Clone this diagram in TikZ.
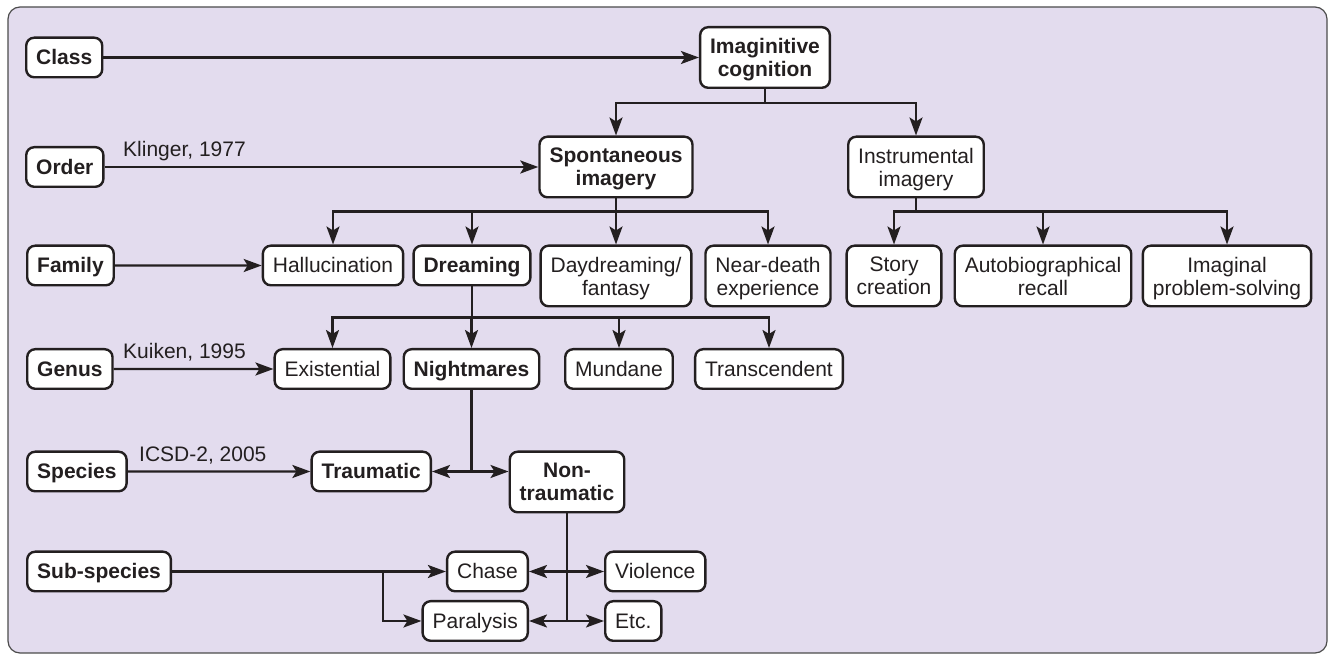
\documentclass[tikz,border=0pt]{standalone}
\usepackage{fontspec}
\setmainfont{Liberation Sans}
\usetikzlibrary{arrows.meta}
\definecolor{lav}{RGB}{227,220,238}
\definecolor{ink}{RGB}{35,31,32}
\begin{document}
\begin{tikzpicture}[x=0.5pt,y=-0.5pt,line width=1.2pt,color=ink,>={Stealth[length=9pt,width=6.5pt,inset=2pt]},font=\fontsize{10.5}{11.5}\selectfont,
    box/.style={draw,fill=white,rounded corners=4pt,align=center,inner xsep=5pt,inner ysep=3pt,minimum height=19.8pt,text height=9.7pt,text depth=2.2pt},
    bbox/.style={box,font=\fontsize{10.5}{11.5}\selectfont\bfseries},
    tall/.style={minimum height=30.3pt,inner ysep=4.5pt,text height=,text depth=0pt},
    ref/.style={anchor=base west,inner sep=0pt}]

    \useasboundingbox (0,0) rectangle (1328,656);
    \draw[line width=0.6pt,draw=black!70,fill=lav,rounded corners=6pt] (8,7) rectangle (1327,653);

    \node[bbox,anchor=west] (class) at (25,57.5) {Class};
    \node[bbox,anchor=west] (order) at (25,167) {Order};
    \node[bbox,anchor=west] (family) at (26,265.5) {Family};
    \node[bbox,anchor=west] (genus) at (26,369) {Genus};
    \node[bbox,anchor=west] (species) at (26,471.5) {Species};
    \node[bbox,anchor=west] (subsp) at (26,571.5) {Sub-species};

    \node[ref] (klinger) at (122,157) {Klinger, 1977};
    \node[ref] (kuiken) at (122,359) {Kuiken, 1995};
    \node[ref] (icsd) at (138,462) {ICSD-2, 2005};

    \node[bbox,tall] (imag) at (765,57.5) {Imaginitive\\cognition};
    \node[bbox,tall] (spont) at (616,167) {Spontaneous\\imagery};
    \node[box,tall] (instr) at (916,167) {Instrumental\\imagery};

    \node[box,anchor=north] (halluc) at (333,244.5) {Hallucination};
    \node[bbox,anchor=north] (dream) at (472,244.5) {Dreaming};
    \node[box,tall,anchor=north] (daydr) at (616,244.5) {Daydreaming/\\fantasy};
    \node[box,tall,anchor=north] (neard) at (768,244.5) {Near-death\\experience};
    \node[box,tall,anchor=north] (story) at (894,244.5) {Story\\creation};
    \node[box,tall,anchor=north] (autob) at (1043,244.5) {Autobiographical\\recall};
    \node[box,tall,anchor=north] (imagn) at (1227,244.5) {Imaginal\\problem-solving};

    \node[box,anchor=north] (exist) at (332.5,348) {Existential};
    \node[bbox,anchor=north] (night) at (471.5,348) {Nightmares};
    \node[box,anchor=north] (mund) at (619,348) {Mundane};
    \node[box,anchor=north] (trans) at (769,348) {Transcendent};

    \node[bbox,anchor=north east] (traum) at (432,450.5) {Traumatic};
    \node[bbox,tall,anchor=north] (nontr) at (567,450.5) {Non-\\traumatic};

    \node[box,anchor=east] (chase) at (529,571.5) {Chase};
    \node[box,anchor=west] (viol) at (604,571.5) {Violence};
    \node[box,anchor=east] (para) at (529,621) {Paralysis};
    \node[box,anchor=west] (etc) at (604,621) {Etc.};

    \coordinate (sj) at (383,571.5);

    \draw[->] (class) -- (imag);
    \draw[->] (order) -- (spont);
    \draw[->] (family) -- (halluc);
    \draw[->] (genus) -- (exist);
    \draw[->] (species) -- (traum);
    \draw[->] (subsp) -- (chase);
    \draw[->] (sj) |- (para);

    \draw[->] (imag.south) -- ++(0,14) -| (spont);
    \draw[->] (imag.south) -- ++(0,14) -| (instr);
    \foreach \n in {halluc,dream,daydr,neard}
        \draw[->] (spont.south) -- ++(0,13) -| (\n);
    \foreach \n in {story,autob,imagn}
        \draw[->] (instr.south) -- ++(0,13) -| (\n);
    \foreach \n in {exist,night,mund,trans}
        \draw[->] (dream.south) -- ++(0,31) -| (\n);

    \draw (night.south) -- (night.south |- traum.east);
    \draw[<->] (traum.east) -- (traum.east -| nontr.west);

    \draw (nontr.south) -- (nontr.south |- para.east);
    \draw[<->] (chase) -- (viol);
    \draw[<->] (para) -- (etc);

\end{tikzpicture}
\end{document}
